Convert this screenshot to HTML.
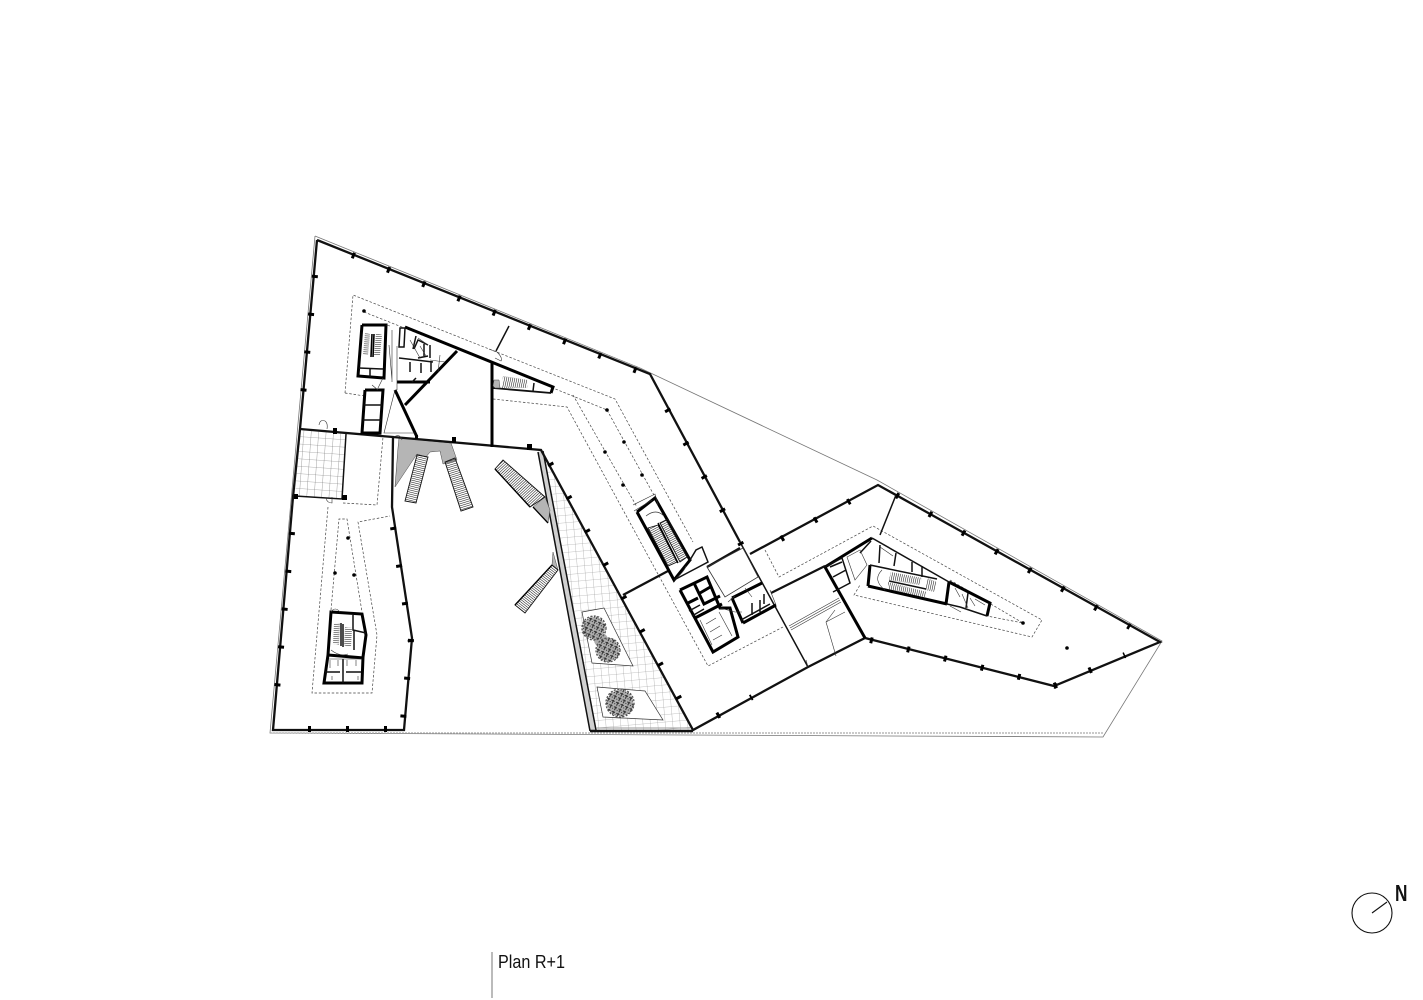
<!DOCTYPE html>
<html><head><meta charset="utf-8"><style>
html,body{margin:0;padding:0;background:#fff}
svg{display:block}
.site{fill:none;stroke:#777;stroke-width:.8}
.w{fill:none;stroke:#111;stroke-width:2.3;stroke-linejoin:miter}
.t{fill:none;stroke:#000;stroke-width:3;stroke-linejoin:miter}
.m{fill:none;stroke:#111;stroke-width:1.5}
.n{fill:none;stroke:#333;stroke-width:.6}
.d{fill:none;stroke:#444;stroke-width:.7;stroke-dasharray:2.5 1.8}
.k{fill:none;stroke:#000;stroke-width:6;stroke-dasharray:3 35}
.g{fill:#b5b5b5;stroke:#444;stroke-width:.5}
.f{stroke:#111;stroke-width:.9}
</style></head><body>
<svg width="1423" height="1000" viewBox="0 0 1423 1000" xmlns="http://www.w3.org/2000/svg">
<defs>
<pattern id="mesh" width="7.4" height="7.4" patternUnits="userSpaceOnUse" patternTransform="rotate(-5)"><path d="M0 0H7.4M0 0V7.4" stroke="#8a8a8a" stroke-width=".55" fill="none"/></pattern>
<pattern id="mesh2" width="7.4" height="7.4" patternUnits="userSpaceOnUse" patternTransform="rotate(4)"><path d="M0 0H7.4M0 0V7.4" stroke="#666" stroke-width=".6" fill="none"/></pattern>
<pattern id="hA" width="8" height="2" patternUnits="userSpaceOnUse" patternTransform="rotate(14)"><path d="M0 0H8" stroke="#111" stroke-width="1.05"/></pattern>
<pattern id="hB" width="8" height="2" patternUnits="userSpaceOnUse" patternTransform="rotate(-17)"><path d="M0 0H8" stroke="#111" stroke-width="1.05"/></pattern>
<pattern id="hC" width="2" height="8" patternUnits="userSpaceOnUse" patternTransform="rotate(47)"><path d="M0 0V8" stroke="#111" stroke-width="1.05"/></pattern>
<pattern id="hD" width="2" height="8" patternUnits="userSpaceOnUse" patternTransform="rotate(-52)"><path d="M0 0V8" stroke="#111" stroke-width="1.05"/></pattern>
<pattern id="hE" width="2" height="8" patternUnits="userSpaceOnUse" patternTransform="rotate(62)"><path d="M0 0V8" stroke="#111" stroke-width="1.05"/></pattern>
<pattern id="hF" width="2" height="8" patternUnits="userSpaceOnUse" patternTransform="rotate(12)"><path d="M0 0V8" stroke="#111" stroke-width="1.05"/></pattern>
<pattern id="hH" width="8" height="2" patternUnits="userSpaceOnUse" patternTransform="rotate(3)"><path d="M0 0H8" stroke="#111" stroke-width="1.05"/></pattern>
<pattern id="tree" width="5" height="5" patternUnits="userSpaceOnUse" patternTransform="rotate(25)"><path d="M0 1H3.5M2 0V4M4 3H5" stroke="#333" stroke-width="1.1" fill="none"/></pattern>
</defs>

<!-- site outline -->
<path class="site" d="M315 236L640 368L877 480L1162 641L1103 737L270 733L315 236"/>
<path d="M270 733H1103" stroke="#aaa" stroke-width="1.2" stroke-dasharray="2 1" fill="none"/>

<!-- terrace -->
<polygon points="541,450 693,731 590,732" fill="url(#mesh)"/>
<polygon points="538,452 543,451 596,730 590,731" fill="#d0d0d0"/>
<path class="m" d="M538 452L590 731M543 451L596 730" stroke-width="1.2"/>
<path d="M590 731H693" stroke="#111" stroke-width="2.6"/>
<path d="M597 728H690" stroke="#999" stroke-width="1"/>
<polygon points="582,612 604,608 633,666 592,663" fill="#fff" stroke="#333" stroke-width=".7"/>
<polygon points="597,687 645,691 663,720 603,717" fill="#fff" stroke="#333" stroke-width=".7"/>
<g fill="#777" opacity=".6"><circle cx="594" cy="628" r="11"/><circle cx="601" cy="640" r="7"/><circle cx="608" cy="650" r="11"/><circle cx="620" cy="703" r="13"/></g>
<g fill="url(#tree)" stroke="#555" stroke-width="1.3" stroke-dasharray="2 1.5">
<circle cx="594" cy="628" r="12"/><circle cx="608" cy="650" r="12"/><circle cx="620" cy="703" r="14"/>
</g>

<!-- mesh square -->
<polygon points="299,430 346,434 342,499 295,496" fill="url(#mesh2)"/>
<path class="m" d="M346 434L342 499L295 496" stroke-width="1.8"/>

<!-- gray escalator landings -->
<polygon class="g" points="399,438 451,443 457,460 443,464 440,451 430,452 426,457 417,454 395,487 398,448"/>
<polygon class="g" points="545,497 533,507 548,523 550,510"/>
<polygon class="g" points="553,552 558,570 552,565"/>

<!-- stairs -->
<polygon class="f" points="417,455 428,457 416,503 405,501" fill="url(#hA)"/>
<polygon class="f" points="445,462 455,458 473,507 461,511" fill="url(#hB)"/>
<polygon class="f" points="503,460 495,469 530,507 545,497" fill="url(#hC)"/>
<polygon class="f" points="552,565 558,570 525,613 515,605" fill="url(#hD)"/>
<path d="M515 605L552 565M533 507L548 523M495 469L530 507" stroke="#000" stroke-width="1.3"/>

<!-- dashed inner lines -->
<path class="d" d="M345 393L353 295L615 399L693 542"/>
<path class="d" d="M345 393L365 396"/>
<path class="d" d="M364 312L480 358L553 388L607 410L655 497"/>
<path class="d" d="M573 395L637 507"/>
<path class="d" d="M493 399L567 407L708 666L783 627"/>
<path class="d" d="M765 550L779 577L873 526L1042 620L1032 637L854 595L860 585"/>
<path class="d" d="M950 580L1023 623L987 616"/>
<path class="d" d="M328 507L312 693L372 693L377 635L358 522L390 516"/>
<path class="d" d="M331 610L339 519L347 519L362 612"/>
<path class="d" d="M343 503L377 505L383 437"/>

<!-- outer walls -->
<path class="w" d="M317 240L650 374L740 542"/>
<path class="w" d="M317 240L300 429L293 497L273 730H404L412 638L392 507L393 437"/>
<path class="w" d="M300 429L393 437L541 450L693 730L808 667L865 638L1054 686L1160 642L878 485L750 554"/>
<path class="w" d="M623 595L668 571"/>
<path class="w" d="M771 593L825 566"/>
<path class="n" d="M790 628L840 600M791 630L841 602M789 626L839 598"/>
<path class="m" d="M808 667L740 542" stroke-width="2.2"/>

<!-- column ticks -->
<line class="k" x1="352" y1="255" x2="640" y2="372"/>
<line class="k" x1="315" y1="275" x2="303" y2="395"/>
<line class="k" x1="292" y1="532" x2="276" y2="700"/>
<line class="k" x1="308" y1="729" x2="390" y2="729"/>
<line class="k" x1="393" y1="527" x2="411" y2="642"/>
<line class="k" x1="411" y1="639" x2="403" y2="720"/>
<line class="k" x1="896" y1="495" x2="1130" y2="627"/>
<line class="k" x1="870" y1="640" x2="1056" y2="686"/>
<line class="k" x1="1054" y1="686" x2="1125" y2="655"/>
<line class="k" x1="781" y1="539" x2="850" y2="501"/>
<line class="k" x1="667" y1="409" x2="742" y2="546"/>
<line class="k" x1="550" y1="463" x2="680" y2="700"/>
<line class="k" x1="717" y1="716" x2="752" y2="697"/>
<g fill="#000">
<rect x="333" y="428" width="4" height="6"/><rect x="415" y="435" width="3" height="4"/><rect x="452" y="437" width="4" height="6"/><rect x="527" y="444" width="5" height="6"/>
<rect x="342" y="495" width="5" height="5"/><rect x="294" y="494" width="4" height="5"/>
<circle cx="364" cy="311" r="1.8"/><circle cx="348" cy="538" r="1.8"/><circle cx="335" cy="573" r="1.8"/><circle cx="354" cy="575" r="1.8"/>
<circle cx="607" cy="410" r="1.8"/><circle cx="624" cy="442" r="1.8"/><circle cx="605" cy="452" r="1.8"/><circle cx="642" cy="475" r="1.8"/><circle cx="623" cy="485" r="1.8"/>
<circle cx="1023" cy="623" r="1.8"/><circle cx="1067" cy="648" r="1.8"/>
</g>

<!-- NW partitions -->
<path class="t" d="M405 327L553 387L551 393"/>
<path d="M551 393L493 388" stroke="#111" stroke-width="1.8" fill="none"/>
<path class="t" d="M492 363V447"/>
<path class="t" d="M457 351L405 405"/>
<path class="t" d="M395 390L417 437"/>
<path class="t" d="M397 382H430"/>
<path class="m" d="M509 326L496 351"/>
<path class="m" d="M534 383L533 391"/>
<!-- NW core -->
<path class="t" d="M362 325H386L384 378L358 376L362 325"/>
<path class="m" d="M359 368L383 369M370 369L370 377"/>
<polygon points="365,333 370,334 368,355 363,355" fill="url(#hH)"/>
<polygon points="376,333 382,335 380,355 374,355" fill="url(#hH)"/>
<path d="M372 334L371 357M374 334L373 357" stroke="#000" stroke-width="1.6"/>
<path class="t" d="M365 390H383L380 433H362L365 390" stroke-width="2.6"/>
<path class="m" d="M364 405H382M363 420H381"/>
<path class="m" d="M400 328H405L404 347H399Z" stroke-width="1.8"/>
<path class="m" d="M399 358L433 362M410 362V372M421 363V373M431 362V372M412 382L416 378M414 349L418 340L428 345M430 345V358M418 358L428 356"/>
<path class="m" d="M416 336L413 349M424 344L424 356" stroke-width="1"/>
<path class="n" d="M395 390L384 433H415M418 338L428 345M420 346L426 356M440 355L438 372M430 360L445 362M410 340L420 358"/>
<path class="n" d="M386 325L390 326M392 330V382M372 385L378 390M389 345L392 380M383 378L378 388M397 390L397 346"/>
<!-- small stair -->
<polygon points="503,376 528,380 527,388 502,388" fill="url(#hF)"/>
<path class="g" d="M493 386L495 388L500 388L499 380L494 380Z" stroke-width=".3"/>
<!-- doors -->
<path class="n" d="M319 425Q320 419 325 421Q328 423 327 429M497 352Q503 358 501 361L495 358M497 352L489 349"/>
<path class="n" d="M326 498Q327 503 332 503L332 497M394 437Q400 433 402 440"/>

<!-- Left core -->
<path class="t" d="M331 612L362 614L366 635L363 657L362 683H324L328 655Z" stroke-width="2.8"/>
<path class="t" d="M328 655L364 658" stroke-width="2.4"/>
<path class="m" d="M343 659V683M353 615V630L366 633M354 630L354 650M325 672H340M346 672H361"/>
<polygon points="334,623 340,623 339,645 333,644" fill="url(#hH)"/>
<polygon points="345,627 352,628 351,647 344,645" fill="url(#hH)"/>
<path d="M341 623V646M343 624V647" stroke="#000" stroke-width="1.4"/>
<path class="n" d="M331 612Q335 606 340 612M331 650Q340 657 348 654M329 659H362M330 660L330 668M338 660V666M347 660V666M356 660V666M332 680V676M358 680V676"/>

<!-- Center core -->
<path class="t" d="M637 512L655 498L690 560L674 580L637 512"/>
<path class="n" d="M633 505L655 494L658 505M634 511L652 500"/>
<polygon class="f" points="648,528 658,525 677,562 668,566" fill="url(#hE)" stroke-width=".5"/>
<polygon class="f" points="660,523 668,519 687,557 680,562" fill="url(#hE)" stroke-width=".5"/>
<path d="M658 523L678 563" stroke="#000" stroke-width="1.4" fill="none"/>
<path class="n" d="M646 516Q656 508 664 516M674 580Q684 572 686 566"/>
<path class="m" d="M674 580L708 562L702 547L696 550L690 560" stroke-width="2.4"/>
<path class="w" d="M707 567L740 548" stroke-width="2"/>
<polygon points="707,567 743,548 758,577 725,597" fill="none" stroke="#333" stroke-width=".8"/>
<path class="t" d="M680 590L707 577L720 608L730 608L738 637L713 652L680 590"/>
<path class="t" d="M694 583L704 604L720 596M700 593L712 586M688 603L698 598M695 618L722 604"/>
<path class="m" d="M689 611L700 605M692 616L704 609"/>
<path class="n" d="M710 632L720 626M706 624L716 618M713 640L722 635M719 612L732 636M700 620L712 645"/>
<path class="t" d="M732 598L762 583M743 623L776 605M732 598L743 623" stroke-width="2.6"/>
<path class="m" d="M741 620L770 604M764 594V604M752 603V615M760 600V612"/>
<path class="n" d="M720 608L735 612L742 612M745 588L752 597M770 590L776 605M728 602L735 596"/>
<path class="n" d="M808 667L806 660M835 610L826 622L836 656M826 622L845 612"/>

<!-- East core -->
<path class="t" d="M825 567L872 538" stroke-width="2.6"/>
<path class="m" d="M872 538L949 582" stroke-width="1.8"/>
<path class="t" d="M949 582L990 603L987 616"/>
<path class="t" d="M868 586L947 604M868 586L870 565"/>
<path class="m" d="M947 604L960 607M960 607L987 616"/>
<path class="t" d="M825 567L865 638" stroke-width="3.8"/>
<path class="m" d="M870 565L937 579" stroke-width="2.2"/>
<path class="m" d="M825 567L842 558L850 583L833 592M830 567L842 562M833 577L846 570"/>
<path class="t" d="M949 582L946 604" stroke-width="2.6"/>
<path class="m" d="M880 545L879 563M896 553L894 566M912 562L912 572M922 566L922 577M968 593L966 608M860 553L871 541"/>
<polygon points="891,572 922,578 920,585 889,580" fill="url(#hF)"/>
<polygon points="888,582 927,592 925,597 888,590" fill="url(#hF)"/>
<polygon points="927,578 937,582 935,592 925,590" fill="url(#hF)"/>
<path class="m" d="M889 581L926 589" stroke-width="1.2"/>
<path class="n" d="M847 557L860 550L867 565L855 580ZM955 588L960 597M970 598L975 606M962 594L968 608M882 570Q872 580 885 590M950 606L961 612M985 605L975 599M880 547L893 556"/>
<path class="m" d="M896 495L880 535" stroke-width="1.7"/>

<!-- North symbol -->
<circle cx="1372" cy="913" r="20" fill="none" stroke="#111" stroke-width="1.1"/>
<path d="M1372 913L1387 902" stroke="#111" stroke-width="1.1"/>
<text transform="translate(1395 901) scale(.75 1)" font-family="'Liberation Sans',sans-serif" font-weight="700" font-size="23" fill="#111">N</text>

<!-- title -->
<path d="M492 952V998" stroke="#777" stroke-width="1"/>
<text x="498" y="968" font-family="'Liberation Sans',sans-serif" font-size="18" fill="#111" textLength="67" lengthAdjust="spacingAndGlyphs">Plan R+1</text>
</svg>
</body></html>
